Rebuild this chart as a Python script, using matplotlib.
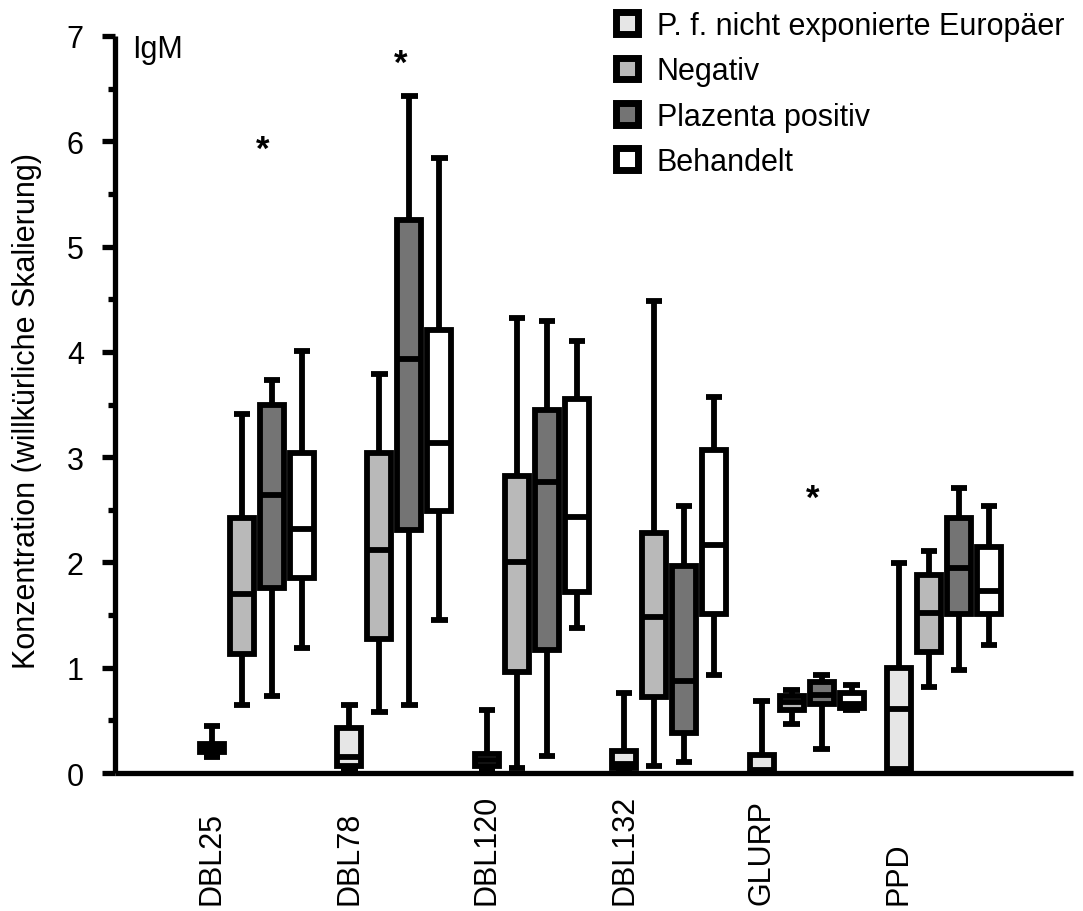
import matplotlib
matplotlib.use("Agg")
import matplotlib.pyplot as plt
from matplotlib.patches import Patch
from matplotlib.ticker import MultipleLocator
from matplotlib.transforms import blended_transform_factory

plt.rcParams["font.family"] = ["Liberation Sans", "DejaVu Sans"]

# Antigens along the x axis and the four study groups
antigens = ["DBL25", "DBL78", "DBL120", "DBL132", "GLURP", "PPD"]
groups = ["P. f. nicht exponierte Europäer", "Negativ", "Plazenta positiv", "Behandelt"]
group_colors = ["#e6e6e6", "#b9b9b9", "#747474", "#ffffff"]

# Box statistics: one row per group, one value per antigen
whisker_low = [
    [0.15, 0.02, 0.02, 0.02, 0.00, 0.02],
    [0.65, 0.58, 0.05, 0.07, 0.47, 0.82],
    [0.73, 0.65, 0.16, 0.10, 0.23, 0.98],
    [1.19, 1.45, 1.38, 0.93, 0.60, 1.22],
]
quartile_1 = [
    [0.20, 0.07, 0.07, 0.05, 0.02, 0.04],
    [1.13, 1.27, 0.96, 0.72, 0.60, 1.15],
    [1.76, 2.31, 1.17, 0.38, 0.66, 1.51],
    [1.85, 2.49, 1.72, 1.51, 0.62, 1.51],
]
median = [
    [0.24, 0.15, 0.12, 0.09, 0.03, 0.61],
    [1.70, 2.12, 2.00, 1.48, 0.67, 1.52],
    [2.64, 3.93, 2.76, 0.87, 0.74, 1.95],
    [2.32, 3.13, 2.43, 2.17, 0.66, 1.73],
]
quartile_3 = [
    [0.28, 0.43, 0.18, 0.21, 0.17, 1.00],
    [2.42, 3.04, 2.82, 2.28, 0.73, 1.88],
    [3.50, 5.25, 3.45, 1.97, 0.86, 2.42],
    [3.04, 4.21, 3.55, 3.07, 0.76, 2.15],
]
whisker_high = [
    [0.45, 0.65, 0.60, 0.76, 0.68, 1.99],
    [3.41, 3.79, 4.32, 4.48, 0.79, 2.11],
    [3.73, 6.43, 4.29, 2.54, 0.93, 2.71],
    [4.01, 5.84, 4.10, 3.57, 0.84, 2.54],
]

# Significance markers
star_antigens = ["DBL25", "DBL78", "GLURP"]
star_values = [6.02, 6.83, 2.70]

GROUP_STEP = 4.58   # distance between antigen clusters
BOX_STEP = 1.0      # distance between neighbouring boxes
LW = 4.2

fig = plt.figure(figsize=(10.83, 9.12), dpi=100)
ax = fig.add_axes([115 / 1083, 1 - 774 / 912, (1073 - 115) / 1083, (774 - 37) / 912])

for g, color in enumerate(group_colors):
    stats, positions = [], []
    for a in range(len(antigens)):
        stats.append(dict(whislo=whisker_low[g][a], q1=quartile_1[g][a], med=median[g][a],
                          q3=quartile_3[g][a], whishi=whisker_high[g][a], fliers=[]))
        positions.append(a * GROUP_STEP + g * BOX_STEP)
    ax.bxp(stats, positions=positions, widths=0.8, capwidths=0.55, patch_artist=True,
           showfliers=False, manage_ticks=False,
           boxprops=dict(facecolor=color, edgecolor="black", linewidth=LW),
           whiskerprops=dict(color="black", linewidth=LW, solid_capstyle="butt"),
           capprops=dict(color="black", linewidth=LW, solid_capstyle="butt"),
           medianprops=dict(color="black", linewidth=LW, solid_capstyle="butt"))

ax.set_xlim(-3.233, 28.7)
ax.set_ylim(0, 7)

for side in ("top", "right"):
    ax.spines[side].set_visible(False)
for side in ("left", "bottom"):
    ax.spines[side].set_linewidth(3.8)
    ax.spines[side].set_capstyle("butt")

ax.yaxis.set_major_locator(MultipleLocator(1))
ax.yaxis.set_minor_locator(MultipleLocator(0.5))
ax.tick_params(axis="y", which="major", length=9.5, width=3.8, labelsize=22, pad=13)
ax.tick_params(axis="y", which="minor", length=5, width=3.8)
ax.set_xticks([])

# Antigen names, rotated and bottom-aligned below the axis
xtrans = blended_transform_factory(ax.transData, ax.transAxes)
for a, name in enumerate(antigens):
    ax.text(a * GROUP_STEP, -0.1777, name, rotation=90, ha="center", va="bottom",
            fontsize=22, transform=xtrans)

ax.set_ylabel("Konzentration (willkürliche Skalierung)", fontsize=22)
ax.yaxis.set_label_coords(-0.0919, 0.4919)
ax.yaxis.label.set_va("center")

ax.text(0.018, 0.972, "IgM", transform=ax.transAxes, fontsize=22, ha="left", va="baseline")

for name, val in zip(star_antigens, star_values):
    x = antigens.index(name) * GROUP_STEP + 1.7
    ax.annotate("*", xy=(x, val), xytext=(0, -14), textcoords="offset points",
                ha="center", va="baseline", fontsize=25, fontweight="bold")

handles = [Patch(facecolor=c, edgecolor="black", linewidth=5.0) for c in group_colors]
ax.legend(handles, groups, loc="upper left", bbox_to_anchor=(616 / 1083, 1 - 12 / 912),
          bbox_transform=fig.transFigure, frameon=False, fontsize=22,
          handlelength=0.72, handleheight=0.72, handletextpad=0.62,
          labelspacing=0.5, borderpad=0, borderaxespad=0)

fig.savefig("out.png", dpi=100)
